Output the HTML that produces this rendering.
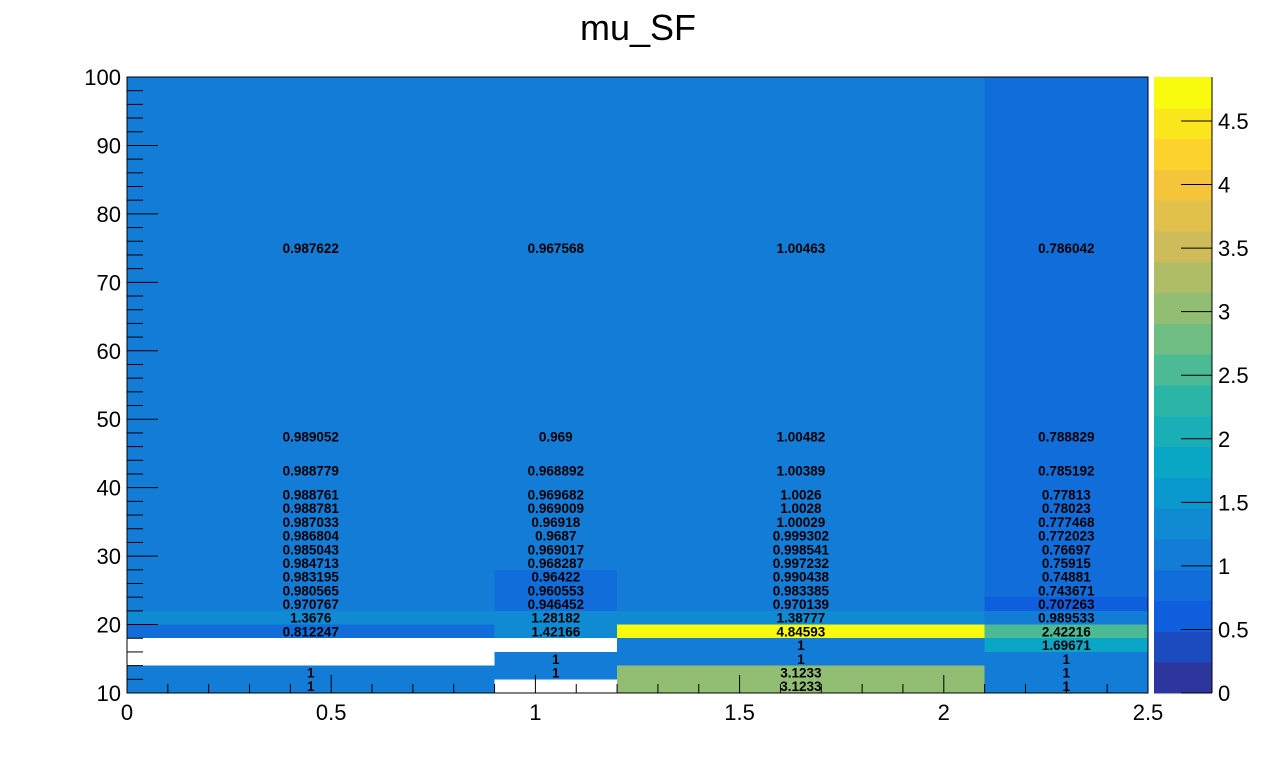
<!DOCTYPE html>
<html><head><meta charset="utf-8"><style>
body{margin:0;background:#fff;}
svg{display:block;font-family:"Liberation Sans",sans-serif;}
</style></head><body>
<svg id="c" width="1276" height="772"></svg>
<script>
const xEdges=[0,0.9,1.2,2.1,2.5];
const yEdges=[10,12,14,16,18,20,22,24,26,28,30,32,34,36,38,40,45,50,100];
// values per column, bottom row (10-12) first
const col1=[1,1,0,0,0.812247,1.3676,0.970767,0.980565,0.983195,0.984713,0.985043,0.986804,0.987033,0.988781,0.988761,0.988779,0.989052,0.987622];
const col2=[0,1,1,0,1.42166,1.28182,0.946452,0.960553,0.96422,0.968287,0.969017,0.9687,0.96918,0.969009,0.969682,0.968892,0.969,0.967568];
const col3=[3.1233,3.1233,1,1,4.84593,1.38777,0.970139,0.983385,0.990438,0.997232,0.998541,0.999302,1.00029,1.0028,1.0026,1.00389,1.00482,1.00463];
const col4=[1,1,1,1.69671,2.42216,0.989533,0.707263,0.743671,0.74881,0.75915,0.76697,0.772023,0.777468,0.78023,0.77813,0.785192,0.788829,0.786042];
const xTicks=[0,0.5,1,1.5,2,2.5];
const yTicks=[10,20,30,40,50,60,70,80,90,100];
const zTicks=[0,0.5,1,1.5,2,2.5,3,3.5,4,4.5];
const zMax=4.84593;
const levelStep=0.2415;
const NS="http://www.w3.org/2000/svg";
const svg=document.getElementById('c');
const L=127,R=1148,T=77,B=693;
const X=v=>L+(v-0)/(2.5)*(R-L);
const Y=v=>B-(v-10)/90*(B-T);
const ZY=v=>B-v/zMax*(B-T);
function mk(t,a,p){const e=document.createElementNS(NS,t);for(const k in a)e.setAttribute(k,a[k]);(p||svg).appendChild(e);return e;}
const st=[0,.125,.25,.375,.5,.625,.75,.875,1];
const rr=[0.2082,0.0592,0.0780,0.0232,0.1802,0.5301,0.8186,0.9956,0.9764];
const gg=[0.1664,0.3599,0.5041,0.6419,0.7178,0.7492,0.7328,0.7862,0.9832];
const bb=[0.5293,0.8684,0.8385,0.7914,0.6425,0.4662,0.3499,0.1968,0.0539];
function bird(t){let i=0;while(i<7&&t>st[i+1])i++;const f=(t-st[i])/(st[i+1]-st[i]);
 const c=a=>Math.round(255*(a[i]+f*(a[i+1]-a[i])));return `rgb(${c(rr)},${c(gg)},${c(bb)})`;}
function lvlColor(l){return bird(0.03+0.97*l/19);}
function colorOf(v){let l=Math.floor(v/levelStep);if(l>19)l=19;if(l<0)l=0;return lvlColor(l);}
const cols=[col1,col2,col3,col4];
cols.forEach((col,ci)=>{col.forEach((v,ri)=>{if(!v)return;
 const r=mk('rect',{x:X(xEdges[ci]),y:Y(yEdges[ri+1]),width:X(xEdges[ci+1])-X(xEdges[ci]),height:Y(yEdges[ri])-Y(yEdges[ri+1]),fill:colorOf(v),'shape-rendering':'crispEdges'});
 
 
});});
cols.forEach((col,ci)=>{col.forEach((v,ri)=>{if(!v)return;
 const t=mk('text',{x:(X(xEdges[ci])+X(xEdges[ci+1]))/2,y:(Y(yEdges[ri])+Y(yEdges[ri+1]))/2+5,'text-anchor':'middle','font-size':'13.5','font-weight':'bold',fill:'#000'});
 t.textContent=String(v);
 
 
});});
const fr=mk('rect',{x:L,y:T,width:R-L,height:B-T,fill:'none',stroke:'#000','stroke-width':1});


for(let v=10;v<=100;v+=2){const maj=v%10===0;mk('line',{x1:L,x2:L+(maj?31:16),y1:Y(v),y2:Y(v),stroke:'#000'});}
yTicks.forEach(v=>{const t=mk('text',{x:L-6,y:Y(v)+8,'text-anchor':'end','font-size':'22'});t.textContent=v;
 
 });
for(let i=0;i<=25;i++){const v=i/10;const maj=i%5===0;mk('line',{x1:X(v),x2:X(v),y1:B,y2:B-(maj?18:9),stroke:'#000'});}
xTicks.forEach(v=>{const t=mk('text',{x:X(v),y:B+27,'text-anchor':'middle','font-size':'22'});t.textContent=v;
 
 });
const CL=1154,CR=1212;
for(let l=0;l<20;l++){const r=mk('rect',{x:CL,y:ZY((l+1)*zMax/20),width:CR-CL,height:ZY(l*zMax/20)-ZY((l+1)*zMax/20)+0.5,fill:lvlColor(l),'shape-rendering':'crispEdges'});
 
 }
mk('line',{x1:CR,x2:CR,y1:T,y2:B,stroke:'#000'});
zTicks.forEach(v=>{mk('line',{x1:CR-31,x2:CR,y1:ZY(v),y2:ZY(v),stroke:'#000'});
 const t=mk('text',{x:CR+6,y:ZY(v)+8,'font-size':'22'});t.textContent=v;
 
 });
const title=mk('text',{x:638,y:40,'text-anchor':'middle','font-size':'36'});title.textContent='mu_SF';


</script>
</body></html>
